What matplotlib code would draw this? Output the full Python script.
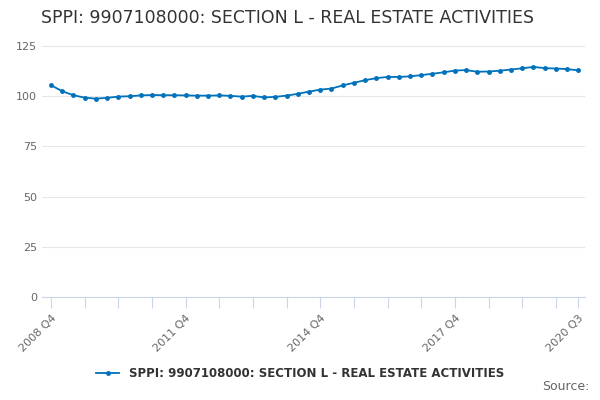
import matplotlib
matplotlib.use("Agg")
import matplotlib.pyplot as plt

quarters = [f"{2008 + (i + 3) // 4} Q{(i + 3) % 4 + 1}" for i in range(48)]
values = [105.5, 102.5, 100.5, 99.3, 98.8, 99.2, 99.8, 100.0, 100.4, 100.6, 100.5, 100.5,
          100.4, 100.3, 100.3, 100.4, 100.2, 99.8, 100.2, 99.4, 99.7, 100.3, 101.2, 102.3,
          103.3, 103.8, 105.4, 106.7, 108.0, 109.0, 109.6, 109.6, 109.9, 110.5, 111.2, 111.9,
          112.8, 113.0, 112.2, 112.3, 112.7, 113.3, 113.9, 114.6, 114.0, 113.8, 113.5, 112.9]
label_idx = [0, 12, 24, 36, 47]
series_name = "SPPI: 9907108000: SECTION L - REAL ESTATE ACTIVITIES"

fig = plt.figure(figsize=(6, 4), dpi=100)
ax = fig.add_axes([0.07, 0.2575, 0.905, 0.6525])
x = list(range(len(values)))
ax.plot(x, values, color="#0072bc", marker="o", markersize=2.5, linewidth=1.3)
ax.set_ylim(0, 130)
ax.set_yticks([0, 25, 50, 75, 100, 125])
ax.set_xlim(-0.8, 47.6)
ticks = list(range(0, 48, 3)) + [47]
ax.set_xticks(ticks)
ax.set_xticklabels([quarters[i] if i in label_idx else "" for i in ticks],
                   rotation=45, ha="right", rotation_mode="anchor")
ax.grid(axis="y", color="#e6e6e6", linewidth=0.8)
ax.set_axisbelow(True)
for s in ["top", "right", "left"]:
    ax.spines[s].set_visible(False)
ax.spines["bottom"].set_color("#ccd6eb")
ax.tick_params(axis="x", colors="#ccd6eb", labelcolor="#666666", labelsize=8, length=8)
ax.tick_params(axis="y", length=0, labelcolor="#666666", labelsize=8)
fig.text(0.068, 0.955, "SPPI: 9907108000: SECTION L - REAL ESTATE ACTIVITIES",
         fontsize=12.5, color="#333333", va="center")
leg = fig.legend([ax.lines[0]], [series_name], loc="center", bbox_to_anchor=(0.5, 0.067),
                 frameon=False, prop={"weight": "bold", "size": 8.5}, handlelength=2)
for t in leg.get_texts():
    t.set_color("#333333")
fig.text(0.982, 0.025, "Source:", ha="right", fontsize=9, color="#666666")
fig.savefig("out.png")
